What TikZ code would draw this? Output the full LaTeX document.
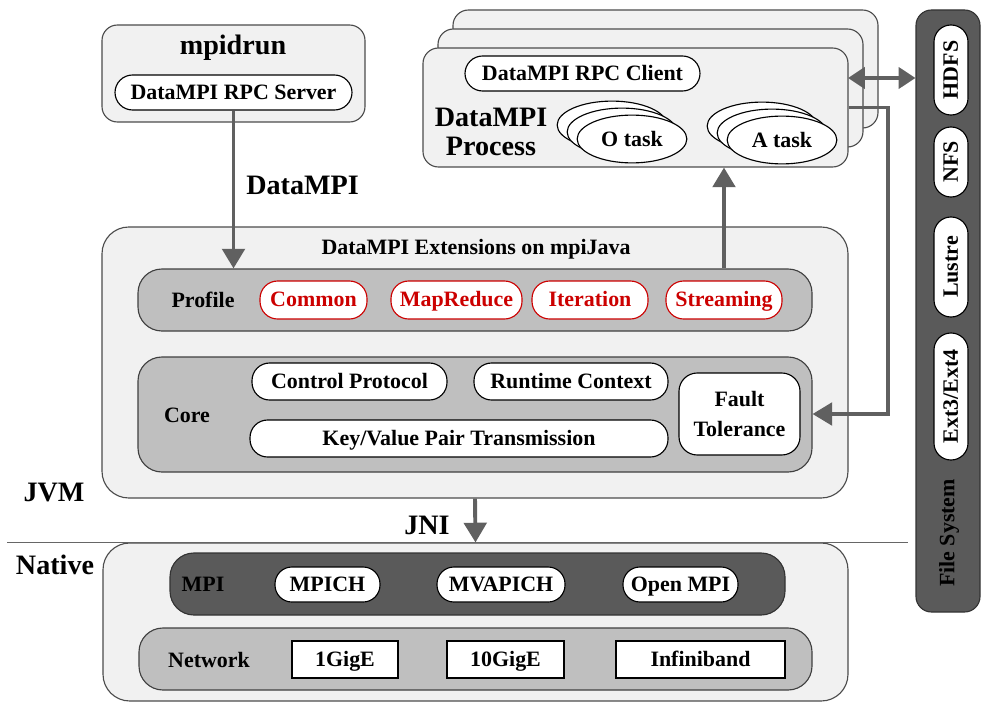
\documentclass[tikz,border=0pt]{standalone}
\usepackage{fontspec}
\setmainfont{Liberation Serif}
\usetikzlibrary{fit,arrows.meta,shapes.geometric}
\definecolor{lightbg}{HTML}{F1F1F1}
\definecolor{bandc}{HTML}{BFBFBF}
\definecolor{darkc}{HTML}{5A5A5A}
\definecolor{arrowc}{HTML}{606060}
\definecolor{redc}{HTML}{CC0000}
\newcommand\smallfnt{\fontsize{15.6}{18}\selectfont\bfseries}
\newcommand\bigfnt{\fontsize{20}{19.5}\selectfont\bfseries}
\newcommand\intext[3][]{\node[lbl,text height=10.4pt,text depth=0.6pt,#1] (#2-t) at (#2.center) {#3};}
\begin{document}
\begin{tikzpicture}[x=0.025cm,y=-0.025cm,
  lightbox/.style={draw=black!70, line width=0.8pt, fill=lightbg, inner sep=0pt},
  outer/.style={lightbox, rounded corners=19pt},
  procbox/.style={lightbox, rounded corners=11pt},
  bandbox/.style={draw=black!75, line width=0.8pt, fill=bandc, rounded corners=17pt, inner sep=0pt},
  darkbox/.style={draw=black!80, line width=0.8pt, fill=darkc, rounded corners=17pt, inner sep=0pt},
  pill/.style={draw=black, line width=0.8pt, fill=white, rounded corners=12.5pt, inner sep=0pt},
  redpill/.style={pill, draw=redc},
  sqbox/.style={draw=black, line width=0.9pt, fill=white, inner sep=0pt},
  oval/.style={ellipse, draw=black, line width=0.8pt, fill=white, inner sep=0pt, minimum width=78pt, minimum height=34pt, font=\smallfnt},
  lbl/.style={inner sep=0pt, font=\smallfnt},
  biglbl/.style={inner sep=0pt, font=\bigfnt},
  arr/.style={draw=arrowc, line width=2.8pt, -{Triangle[length=14pt,width=16pt]}},
  darr/.style={draw=arrowc, line width=2.8pt, {Triangle[length=12pt,width=15pt]}-{Triangle[length=12pt,width=15pt]}}
]
\useasboundingbox (0,0) rectangle (981,703);

% ---- mpidrun
\node[procbox, fit={(102,25)(365,122)}] (mpidrun) {};
\node[biglbl] (mpidrunlbl) at (233,48) {mpidrun};
\node[pill, fit={(115,75)(352,110)}] (rpcs) {};
\intext{rpcs}{DataMPI RPC Server}

% ---- DataMPI process stack
\node[procbox, fit={(453,10)(878,128)}] (back2) {};
\node[procbox, fit={(438,29)(863,147)}] (back1) {};
\node[procbox, fit={(423,48)(848,167)}] (front) {};
\node[pill, fit={(465,56)(700,91)}] (rpcc) {};
\intext{rpcc}{DataMPI RPC Client}
\node[biglbl, align=center] (proclbl) at (491,132) {DataMPI\\[1pt]Process};
\node[oval] (o3) at (612,125) {};
\node[oval] (o2) at (622,132) {};
\node[oval] (o1) at (632,139) {O task};
\node[oval] (a3) at (762,126) {};
\node[oval] (a2) at (772,133) {};
\node[oval] (a1) at (782,140) {A task};

% ---- file system column
\node[darkbox, rounded corners=11pt, fit={(916,10)(980,612)}] (fs) {};
\node[pill, rounded corners=12pt, fit={(934,25)(968,115)}] (hdfs) {};
\intext[rotate=90]{hdfs}{HDFS}
\node[pill, rounded corners=12pt, fit={(934,127)(968,197)}] (nfs) {};
\intext[rotate=90]{nfs}{NFS}
\node[pill, rounded corners=12pt, fit={(934,217)(968,317)}] (lustre) {};
\intext[rotate=90]{lustre}{Lustre}
\node[pill, rounded corners=12pt, fit={(934,333)(968,460)}] (ext) {};
\intext[rotate=90]{ext}{Ext3/Ext4}
\node[lbl, rotate=90] (fsl) at (949,533) {File System};

% ---- JVM extensions
\node[outer, fit={(102,227)(848,498)}] (extb) {};
\node[lbl] (exttitle) at (476,249) {DataMPI Extensions on mpiJava};
\node[bandbox, fit={(138,269)(812,331)}] (profile) {};
\node[lbl] (profilel) at (203,300) {Profile};
\node[redpill, fit={(260,281)(367,319)}] (common) {};
\intext[text=redc]{common}{Common}
\node[redpill, fit={(391,281)(522,319)}] (mapred) {};
\intext[text=redc]{mapred}{MapReduce}
\node[redpill, fit={(532,281)(648,319)}] (iter) {};
\intext[text=redc]{iter}{Iteration}
\node[redpill, fit={(666,281)(782,319)}] (stream) {};
\intext[text=redc]{stream}{Streaming}

\node[bandbox, fit={(138,357)(812,472)}] (core) {};
\node[lbl] (corel) at (187,415) {Core};
\node[pill, fit={(252,363)(447,400)}] (ctrl) {};
\intext{ctrl}{Control Protocol}
\node[pill, fit={(474,363)(668,400)}] (rtc) {};
\intext{rtc}{Runtime Context}
\node[pill, fit={(250,420)(668,457)}] (kv) {};
\intext{kv}{Key/Value Pair Transmission}
\node[pill, rounded corners=13pt, fit={(679,373)(800,455)}] (ft) {};
\node[lbl, align=center] (ft-t) at (ft.center) {Fault\\[3pt]Tolerance};

\node[biglbl] (jvm) at (54,493) {JVM};

% ---- separator and native
\node[outer, fit={(103,543)(848,701)}] (native) {};
\coordinate (sepL) at (7,542);
\coordinate (sepR) at (908,542);
\draw[black!60, line width=0.7pt] (sepL) -- (sepR);
\node[biglbl] (nativel) at (55,565) {Native};
\node[biglbl] (jni) at (427,525) {JNI};

\node[darkbox, fit={(170,553)(785,615)}] (mpi) {};
\node[lbl] (mpil) at (203,584) {MPI};
\node[pill, rounded corners=12pt, fit={(275,567)(380,602)}] (mpich) {};
\intext{mpich}{MPICH}
\node[pill, rounded corners=12pt, fit={(437,567)(565,602)}] (mvapich) {};
\intext{mvapich}{MVAPICH}
\node[pill, rounded corners=12pt, fit={(623,567)(738,602)}] (openmpi) {};
\intext{openmpi}{Open MPI}

\node[bandbox, fit={(139,628)(812,690)}] (network) {};
\node[lbl] (networkl) at (209,660) {Network};
\node[sqbox, fit={(292,641)(398,678)}] (g1) {};
\intext{g1}{1GigE}
\node[sqbox, fit={(447,641)(564,678)}] (g10) {};
\intext{g10}{10GigE}
\node[sqbox, fit={(616,641)(785,678)}] (ib) {};
\intext{ib}{Infiniband}

% ---- labels and connectors
\node[biglbl, anchor=west] (dmpil) at (246,185) {DataMPI};
\draw[arr] (rpcs.south) -- (rpcs.south |- profile.north);
\draw[arr] (stream.north |- profile.north) -- (stream.north |- front.south);
\draw[arr] (extb.south) -- (native.north);
\coordinate (dstart) at (848,78);
\draw[darr] (dstart) -- (fs.west |- dstart);
\draw[draw=arrowc, line width=2.8pt, -{Triangle[length=14pt,width=16pt]}, shorten >=8.5pt]
  (front.east) -- ++(39,0) |- (ft.east);
\end{tikzpicture}
\end{document}
